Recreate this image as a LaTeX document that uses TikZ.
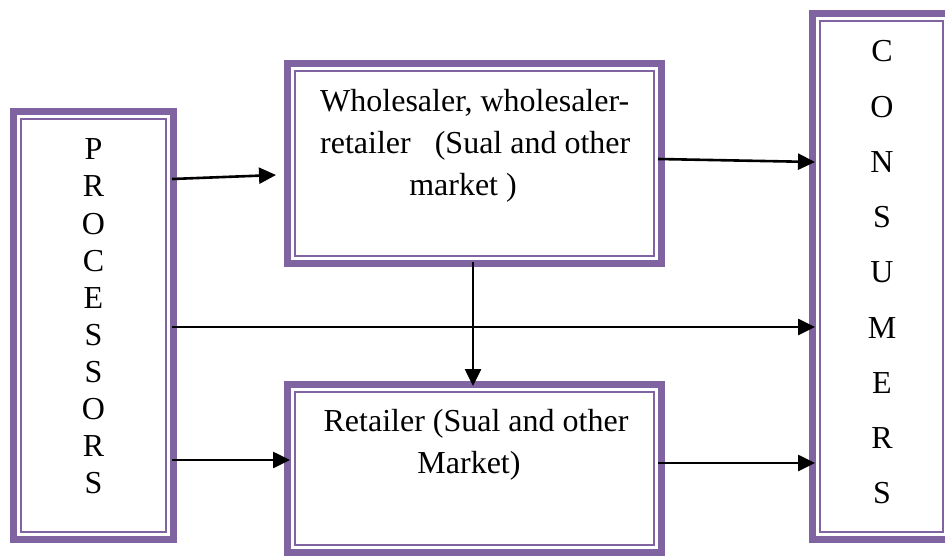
\documentclass[tikz,border=0pt]{standalone}
\usepackage{fontspec}
\setmainfont{Liberation Serif}
\usetikzlibrary{arrows.meta}
\definecolor{frame}{HTML}{8064A2}
\tikzset{
  box/.style={draw=frame, line width=7pt, rectangle, inner sep=0pt,
    path picture={\draw[frame, line width=2pt]
      ([shift={(7.5,7.5)}]path picture bounding box.north west) rectangle
      ([shift={(-7.5,-7.5)}]path picture bounding box.south east);}},
  lbl/.style={inner sep=0pt, font=\fontsize{32}{38}\selectfont},
  flow/.style={draw=black, line width=2.6pt, -{Triangle[length=17pt,width=16pt]}}
}
\begin{document}
\begin{tikzpicture}[x=1pt, y=-1pt]
  \useasboundingbox (0,0) rectangle (945,556);
  \clip (0,0) rectangle (945,556);

  % framed boxes
  \node[box, minimum width=160pt, minimum height=428pt] (proc) at (93.5,325.5) {};
  \node[box, minimum width=374pt, minimum height=200pt] (whole) at (474.5,163.5) {};
  \node[box, minimum width=374pt, minimum height=168pt] (ret) at (474.5,468.5) {};
  \node[box, minimum width=138pt, minimum height=526pt] (cons) at (881.5,276.5) {};

  % vertical labels
  \foreach \l [count=\i from 0] in {P,R,O,C,E,S,S,O,R,S}
    \node[lbl, anchor=base] (p\i) at (93.5,{160+37*\i}) {\l};
  \foreach \l [count=\i from 0] in {C,O,N,S,U,M,E,R,S}
    \node[lbl, anchor=base] (c\i) at (882,{62+55.2*\i}) {\l};

  % box texts
  \node[lbl, anchor=base west] (w1) at (320,112) {Wholesaler, wholesaler-};
  \node[lbl, anchor=base west] (w2) at (320,154) {retailer\ \ \ (Sual and other};
  \node[lbl, anchor=base] (w3) at (463,196) {market )};
  \node[lbl, anchor=base] (r1) at (476,431) {Retailer (Sual and other};
  \node[lbl, anchor=base] (r2) at (469,473) {Market)};

  % connector end points
  \coordinate (a1s) at (172,179); \coordinate (a1e) at (276,175);
  \coordinate (a2s) at (658,159); \coordinate (a2e) at (815,162);
  \coordinate (a3s) at (172,327); \coordinate (a3e) at (815,327);
  \coordinate (a4s) at (473,262); \coordinate (a4e) at (473,386);
  \coordinate (a5s) at (172,460); \coordinate (a5e) at (290,460);
  \coordinate (a6s) at (658,463); \coordinate (a6e) at (815,463);

  % flows
  \draw[flow] (a1s) -- (a1e);
  \draw[flow] (a2s) -- (a2e);
  \draw[flow] (a3s) -- (a3e);
  \draw[flow] (a4s) -- (a4e);
  \draw[flow] (a5s) -- (a5e);
  \draw[flow] (a6s) -- (a6e);
\end{tikzpicture}
\end{document}
